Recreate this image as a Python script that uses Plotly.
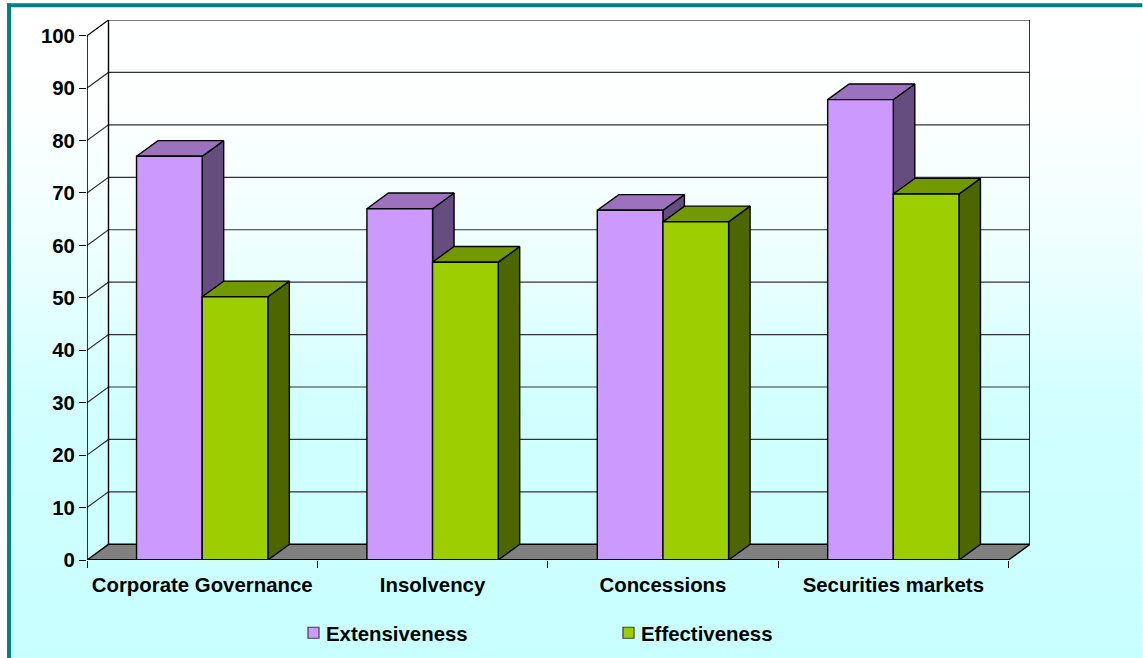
import numpy as np
import plotly.graph_objects as go

categories = ["Corporate Governance", "Insolvency", "Concessions", "Securities markets"]
extensiveness = [77, 67, 66.7, 87.8]
effectiveness = [50.2, 56.8, 64.5, 69.8]
y_ticks = [0, 10, 20, 30, 40, 50, 60, 70, 80, 90, 100]

W, H = 1143, 658
L, R, T, B = 87, 1030.5, 19.7, 560
BAR_W = 0.285
DX = 21.5 / 230.5
DY = 15.7 / 5.25
X0, X1 = -0.5, 3.5
Y_MAX = 100

fig = go.Figure()


def poly(xs, ys, fill, line_color="#000000", width=1.4):
    fig.add_trace(go.Scatter(
        x=xs, y=ys, mode="lines", fill="toself", fillcolor=fill,
        line=dict(color=line_color, width=width), showlegend=False,
        hoverinfo="skip", cliponaxis=False))


def seg(xs, ys, color="#000000", width=1.4):
    fig.add_trace(go.Scatter(
        x=xs, y=ys, mode="lines", line=dict(color=color, width=width),
        showlegend=False, hoverinfo="skip", cliponaxis=False))


def bar(x, v, front, top, side):
    a, b = x, x + BAR_W
    poly([b, b + DX, b + DX, b, b], [0, DY, v + DY, v, 0], side)
    poly([a, a + DX, b + DX, b, a], [v, v + DY, v + DY, v, v], top)
    poly([a, b, b, a, a], [0, 0, v, v, 0], front)


# floor
poly([X0, X1, X1 + DX, X0 + DX, X0], [0, 0, DY, DY, 0], "#808080")

# walls and grid
for v in y_ticks[1:]:
    color = "#000000" if v == Y_MAX else "#333333"
    seg([X0, X0 + DX, X1 + DX], [v, v + DY, v + DY], color, 1.2)
seg([X0, X0], [0, Y_MAX], "#000000", 1.6)
seg([X0 + DX, X0 + DX], [DY, Y_MAX + DY], "#000000", 1.4)
seg([X1 + DX, X1 + DX], [DY, Y_MAX + DY], "#000000", 1.6)

# bars
for i in range(len(categories)):
    bar(i - BAR_W, extensiveness[i], "#CC99FF", "#9C72BE", "#664D80")
    bar(i, effectiveness[i], "#9DCF00", "#739900", "#4D6600")

# front baseline
seg([X0, X1], [0, 0], "#000000", 2)

# legend keys
for name, color in (("Extensiveness", "#CC99FF"), ("Effectiveness", "#9DCF00")):
    fig.add_trace(go.Scatter(
        x=[None], y=[None], mode="markers", name=name,
        marker=dict(symbol="square", size=11, color=color,
                    line=dict(color="#404040", width=1.2))))

# page gradient and frame
grad_y = [7, 100, 233, 333, 400, 658]
grad_r = [255, 253, 240, 223, 210, 200]
shapes = []
STRIP = 5
for y_a in range(7, H, STRIP):
    y_b = min(y_a + STRIP + 1, H)
    r = int(round(float(np.interp(y_a + STRIP / 2, grad_y, grad_r))))
    shapes.append(dict(
        type="rect", xref="paper", yref="paper", layer="below",
        x0=(10 - L) / (R - L), x1=(W - L) / (R - L),
        y0=(B - y_a) / (B - T), y1=(B - y_b) / (B - T),
        fillcolor=f"rgb({r},255,255)", line=dict(width=0)))
for x_a, x_b, y_a, y_b in ((7, 11, 3, H), (7, W, 3, 7)):
    shapes.append(dict(
        type="rect", xref="paper", yref="paper", layer="below",
        x0=(x_a - L) / (R - L), x1=(x_b - L) / (R - L),
        y0=(B - y_a) / (B - T), y1=(B - y_b) / (B - T),
        fillcolor="#008080", line=dict(width=0)))

font = dict(family="Liberation Sans, Arial, sans-serif", size=20.4, color="#000000")

fig.update_layout(
    width=W, height=H, autosize=False,
    margin=dict(l=L, r=W - R, t=T, b=H - B, pad=0),
    paper_bgcolor="#FFFFFF", plot_bgcolor="rgba(0,0,0,0)",
    font=font, shapes=shapes, hovermode=False,
    xaxis=dict(
        range=[X0, X1 + DX], showgrid=False, zeroline=False, showline=False,
        tickmode="array", tickvals=list(range(len(categories))), ticktext=categories,
        ticks="", ticklabelstandoff=11, tickfont=dict(font, weight="bold"),
        minor=dict(tickmode="array", tickvals=[-0.5, 0.5, 1.5, 2.5, 3.5],
                   ticks="outside", ticklen=7, tickwidth=1.2, tickcolor="#000000",
                   showgrid=False)),
    yaxis=dict(
        range=[0, Y_MAX + DY], showgrid=False, zeroline=False, showline=False,
        tickmode="array", tickvals=y_ticks, ticks="outside", ticklen=7,
        tickwidth=1.2, tickcolor="#000000", tickfont=dict(font, weight="bold")),
    legend=dict(
        orientation="h", xref="container", yref="container",
        x=293 / W, xanchor="left",
        y=1 - 613 / H, yanchor="top",
        entrywidth=277, entrywidthmode="pixels", indentation=-7,
        bgcolor="rgba(0,0,0,0)", font=dict(font, weight="bold"),
        itemclick=False, itemdoubleclick=False),
)

fig.write_html(
    "out.html", config=dict(displayModeBar=False),
    post_script=(
        "document.body.style.margin='0';document.body.style.overflow='hidden';"
        "document.querySelectorAll('.legendsymbols').forEach("
        "function(n){n.setAttribute('transform','translate(7.5,0)');});"
    ))
